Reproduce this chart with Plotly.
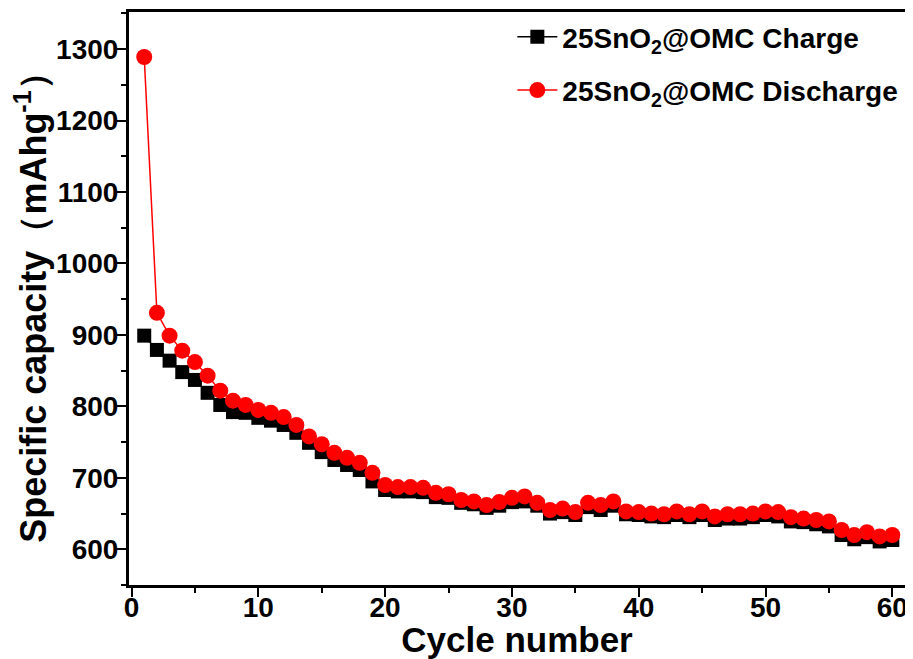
import plotly.graph_objects as go

cycles = list(range(1, 61))
charge = [899, 879, 864, 848, 837, 819, 802, 792, 791, 784,
          780, 774, 763, 749, 736, 725, 718, 711, 695, 683,
          681, 681, 680, 673, 672, 665, 663, 658, 661, 666,
          667, 661, 650, 652, 648, 659, 655, 661, 649, 648,
          646, 645, 648, 645, 648, 641, 643, 643, 645, 648,
          646, 639, 638, 635, 632, 620, 614, 617, 611, 613]
discharge = [1289, 931, 899, 878, 862, 843, 822, 808, 802, 795,
             791, 785, 774, 758, 747, 735, 728, 721, 707, 690,
             687, 687, 686, 679, 677, 669, 667, 662, 666, 672,
             674, 665, 655, 657, 652, 665, 662, 667, 653, 652,
             650, 649, 653, 649, 653, 646, 649, 649, 650, 653,
             652, 645, 643, 641, 639, 627, 620, 624, 618, 620]

font = "Liberation Sans, Arial, sans-serif"

fig = go.Figure()
fig.add_trace(go.Scatter(
    x=cycles, y=charge, mode="lines+markers",
    name="25SnO<sub>2</sub>@OMC Charge", legendgroup="charge",
    line=dict(color="black", width=1.5),
    marker=dict(symbol="square", size=14, color="black"),
))
fig.add_trace(go.Scatter(
    x=cycles, y=discharge, mode="lines+markers",
    name="25SnO<sub>2</sub>@OMC Discharge", legendgroup="discharge",
    line=dict(color="red", width=1.5),
    marker=dict(symbol="circle", size=16, color="red"),
))

fig.update_layout(
    width=905, height=651,
    margin=dict(l=121, r=8, t=4, b=74),
    paper_bgcolor="white", plot_bgcolor="white",
    font=dict(family=font, color="black"),
    showlegend=True,
    legend=dict(x=0.494, y=1.0, xanchor="left", yanchor="top",
                bgcolor="rgba(0,0,0,0)", borderwidth=0,
                font=dict(family=font, size=28, color="black", weight="bold"),
                tracegroupgap=14, itemwidth=40),
)
fig.update_xaxes(
    range=[-0.2, 61], tickmode="linear", tick0=0, dtick=10,
    ticks="outside", ticklen=9, tickwidth=2, tickcolor="black",
    minor=dict(dtick=5, ticks="outside", ticklen=5, tickwidth=2, tickcolor="black"),
    showline=True, linecolor="black", linewidth=3, mirror=True,
    showgrid=False, zeroline=False, automargin=False,
    ticklabelstandoff=-14,
    tickfont=dict(family=font, size=28, color="black", weight="bold"),
    title=dict(text="Cycle number", standoff=8,
               font=dict(family=font, size=35, color="black", weight="bold")),
)
fig.update_yaxes(
    range=[550, 1352], tickmode="linear", tick0=600, dtick=100,
    ticks="outside", ticklen=9, tickwidth=2, tickcolor="black",
    minor=dict(dtick=50, ticks="outside", ticklen=5, tickwidth=2, tickcolor="black"),
    showline=True, linecolor="black", linewidth=3, mirror=True,
    showgrid=False, zeroline=False, automargin=False,
    ticklabelstandoff=-7,
    tickfont=dict(family=font, size=28, color="black", weight="bold"),
    title=dict(text="Specific capacity（mAhg<sup>-1</sup>）", standoff=0,
               font=dict(family=font, size=36, color="black", weight="bold")),
)

fig.write_html("out.html")
